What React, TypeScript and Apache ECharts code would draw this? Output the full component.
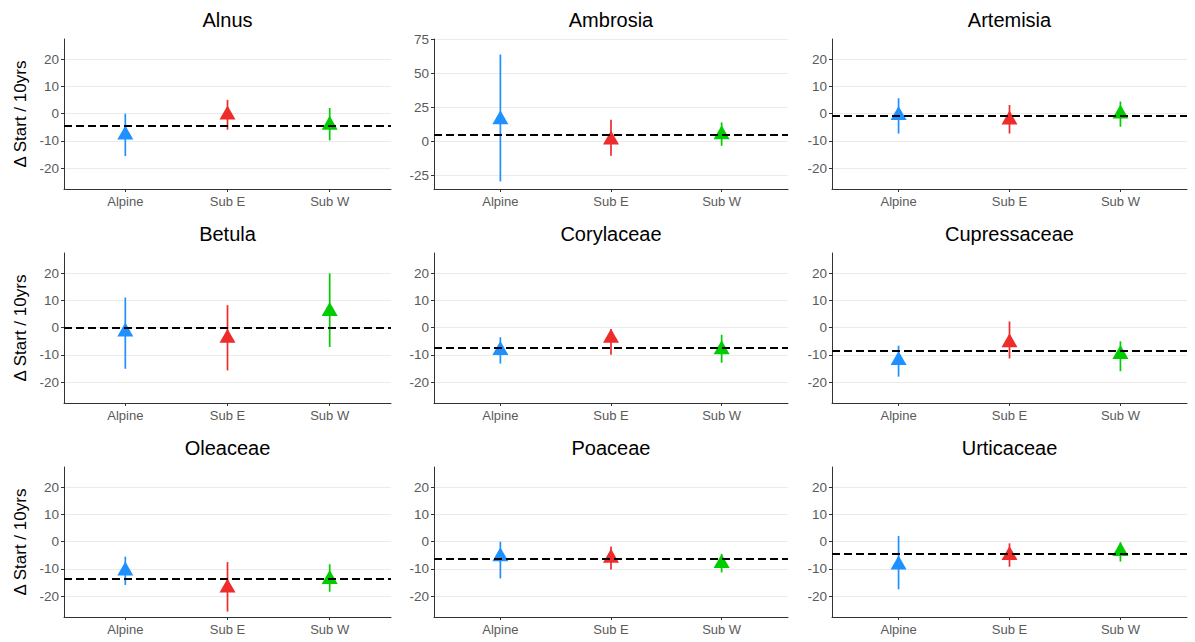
import React, { useEffect, useRef } from 'react';
import * as echarts from 'echarts';

const taxa = ['Alnus', 'Ambrosia', 'Artemisia', 'Betula', 'Corylaceae', 'Cupressaceae', 'Oleaceae', 'Poaceae', 'Urticaceae'];
const regions = ['Alpine', 'Sub E', 'Sub W'];
const regionPositions = [1, 2, 3];
const regionColors = ['#1E90FF', '#EE2C2C', '#00CD00'];

const estimate = [
  [-7.8, -0.4, -4.2],
  [16, 1, 5],
  [-0.6, -2.2, 0],
  [-1.5, -3.8, 6],
  [-8.3, -3.8, -8],
  [-12, -5.5, -9.8],
  [-10.7, -17, -13.8],
  [-5.5, -6, -7.9],
  [-8.5, -5, -3.5],
];
const lower = [
  [-15.6, -5.9, -9.8],
  [-29.7, -10.7, -3.4],
  [-7.3, -7.3, -4.8],
  [-15.1, -15.7, -7.1],
  [-13.2, -9.9, -12.9],
  [-18, -11.3, -16],
  [-15.9, -25.7, -18.4],
  [-13.5, -10.2, -11.3],
  [-17.5, -9.2, -7.3],
];
const upper = [
  [0, 5.1, 2.1],
  [64, 15.8, 13.9],
  [5.7, 3.2, 4.5],
  [11.1, 8.3, 20],
  [-3.5, -0.5, -2.6],
  [-6.6, 2.3, -5],
  [-5.5, -7.5, -8.3],
  [0, -1.8, -4.5],
  [2.1, -0.6, -0.2],
];
const overall = [-4.3, 4.6, -0.7, 0, -7.2, -8.5, -13.5, -6.2, -4.6];

const commonTicks = [-20, -10, 0, 10, 20];
const ambrosiaTicks = [-25, 0, 25, 50, 75];
const commonLimits = [-27.7, 27.5];
const ambrosiaLimits = [-35.3, 75.5];

const yTitle = 'Δ Start / 10yrs';

const colLefts = [64, 434, 832];
const colWidths = [327, 354, 355];
const rowTops = [39, 253, 467];
const plotHeight = 150;

const sans = '"Liberation Sans", Arial, sans-serif';

export default function App() {
  const ref = useRef<HTMLDivElement>(null);

  useEffect(() => {
    if (!ref.current) return;
    const chart = echarts.init(ref.current, null, { renderer: 'svg' });

    const grid: any[] = [];
    const xAxis: any[] = [];
    const yAxis: any[] = [];
    const series: any[] = [];
    const graphic: any[] = [];

    taxa.forEach((name, i) => {
      const row = Math.floor(i / 3);
      const col = i % 3;
      const isAmb = name === 'Ambrosia';
      const ticks = isAmb ? ambrosiaTicks : commonTicks;
      const lim = isAmb ? ambrosiaLimits : commonLimits;
      grid.push({ left: colLefts[col], top: rowTops[row], width: colWidths[col], height: plotHeight });
      xAxis.push({
        type: 'value', gridIndex: i, min: 0.4, max: 3.6,
        axisLine: { show: true, onZero: false, lineStyle: { color: '#333', width: 1 } },
        axisTick: { show: true, length: 3, customValues: regionPositions, lineStyle: { color: '#333' } },
        axisLabel: {
          customValues: regionPositions,
          formatter: (v: number) => regions[Math.round(v) - 1] ?? '',
          color: '#5a5a5a', fontFamily: sans, fontSize: 13, margin: 6,
        },
        splitLine: { show: false },
      });
      yAxis.push({
        type: 'value', gridIndex: i, min: lim[0], max: lim[1],
        axisLine: { show: true, onZero: false, lineStyle: { color: '#333', width: 1 } },
        axisTick: { show: true, length: 3, customValues: ticks, lineStyle: { color: '#333' } },
        axisLabel: { customValues: ticks, color: '#5a5a5a', fontFamily: sans, fontSize: 13.5, margin: 5 },
        splitLine: { show: false },
      });

      series.push({
        type: 'line', xAxisIndex: i, yAxisIndex: i, data: [], z: 0,
        markLine: {
          silent: true, symbol: 'none', label: { show: false }, z: 0,
          lineStyle: { color: '#ebebeb', width: 1, type: 'solid' },
          data: ticks.map((t) => ({ yAxis: t })),
        },
      });

      series.push({
        type: 'custom', xAxisIndex: i, yAxisIndex: i, z: 2,
        encode: { x: 0, y: [1, 2] },
        data: regionPositions.map((p, k) => [p, lower[i][k], upper[i][k]]),
        renderItem: (params: any, api: any) => {
          const x = api.value(0);
          const a = api.coord([x, api.value(1)]);
          const b = api.coord([x, api.value(2)]);
          return {
            type: 'line',
            shape: { x1: a[0], y1: a[1], x2: b[0], y2: b[1] },
            style: { stroke: regionColors[params.dataIndex], lineWidth: 1.7 },
          };
        },
      });

      series.push({
        type: 'scatter', xAxisIndex: i, yAxisIndex: i, z: 3,
        symbol: 'triangle', symbolSize: [16, 14], symbolOffset: [0, -2.3],
        data: regionPositions.map((p, k) => ({ value: [p, estimate[i][k]], itemStyle: { color: regionColors[k], opacity: 1 } })),
      });

      series.push({
        type: 'line', xAxisIndex: i, yAxisIndex: i, data: [], z: 10,
        markLine: {
          silent: true, symbol: 'none', label: { show: false }, z: 10,
          lineStyle: { color: '#000', width: 1.8, type: [8, 4] },
          data: [{ yAxis: overall[i] }],
        },
      });

      graphic.push({
        type: 'text',
        x: colLefts[col] + colWidths[col] / 2,
        y: rowTops[row] - 19,
        style: { text: name, align: 'center', verticalAlign: 'middle', font: `20px ${sans}`, fill: '#000' },
      });
      if (col === 0) {
        graphic.push({
          type: 'text',
          x: 20,
          y: rowTops[row] + plotHeight / 2,
          rotation: Math.PI / 2,
          style: { text: yTitle, align: 'center', verticalAlign: 'middle', font: `17px ${sans}`, fill: '#000' },
        });
      }
    });

    chart.setOption({
      animation: false,
      backgroundColor: '#fff',
      grid, xAxis, yAxis, series, graphic,
    });
    return () => chart.dispose();
  }, []);

  return <div ref={ref} style={{ position: 'fixed', left: 0, top: 0, width: 1195, height: 642 }} />;
}
